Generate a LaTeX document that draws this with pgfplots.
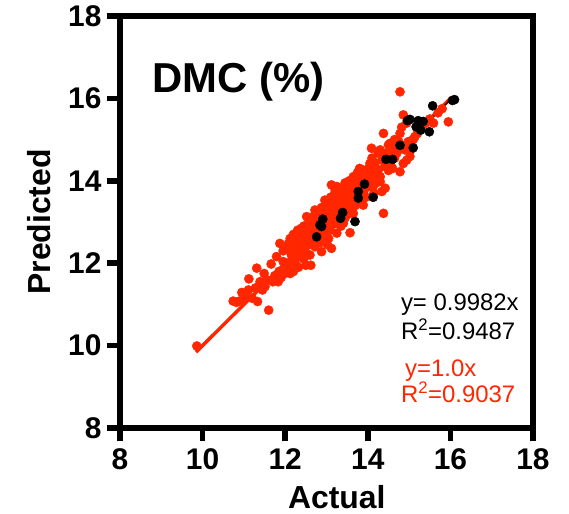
\documentclass[border=0pt]{standalone}
\usepackage{fontspec}
\setmainfont{Liberation Sans}
\usepackage{pgfplots}
\pgfplotsset{compat=1.18}
\definecolor{dmcred}{RGB}{255,38,0}
\begin{document}
\begin{tikzpicture}
\begin{axis}[
  scale only axis, width=413bp, height=412bp,
  xmin=8, xmax=18, ymin=8, ymax=18,
  xtick={8,10,12,14,16,18}, ytick={8,10,12,14,16,18},
  axis line style={line width=5.5bp, line cap=rect},
  tick style={line width=5.5bp, black},
  major tick length=13bp, tick align=outside,
  xtick pos=bottom, ytick pos=left,
  /pgf/number format/assume math mode=true,
  ticklabel style={font=\fontsize{30}{32}\selectfont\bfseries},
  xticklabel style={yshift=-4bp},
  yticklabel style={xshift=-2bp},
  xlabel={Actual}, ylabel={Predicted},
  label style={font=\fontsize{32}{36}\selectfont\bfseries},
  xlabel style={at={([yshift=-80bp]axis description cs:0.525,0)}, anchor=base},
  ylabel style={at={([xshift=-69bp]axis description cs:0,0.5)}, anchor=base},
  clip=false,
]
% red points (all samples)
\addplot[only marks, mark=*, dmcred, mark options={draw=dmcred, fill=dmcred, mark size=4.6bp}] coordinates {
(9.86,9.99)
(10.74,11.08)(10.82,11.05)(10.89,11.08)(10.95,11.29)(11.0,11.12)(11.05,11.2)(11.11,11.35)(11.12,11.62)
(11.2,11.15)(11.28,11.4)(11.31,11.88)(11.33,11.07)(11.39,11.55)(11.45,11.35)(11.49,11.75)(11.51,11.43)
(11.55,11.6)(11.60,10.86)(11.66,11.98)(11.7,11.55)(11.75,11.7)(11.83,11.55)(11.85,11.8)(11.9,11.65)
(11.95,12.04)(11.99,11.75)(12.05,11.85)(12.12,11.75)(12.2,11.8)(12.24,12.0)(12.08,12.0)
(11.79,12.16)(11.87,12.48)(11.95,12.3)
(12.04,12.40)(12.08,12.48)(12.12,12.32)(12.12,12.60)(12.15,12.2)(12.18,12.45)(12.2,12.56)(12.2,12.32)
(12.25,12.1)(12.28,12.64)(12.28,12.68)(12.28,12.32)(12.3,12.5)(12.32,11.9)(12.35,12.25)(12.36,12.48)
(12.38,12.75)(12.40,12.85)(12.42,12.4)(12.44,12.60)(12.45,12.1)(12.48,12.3)(12.5,12.55)(12.5,11.95)
(12.52,13.13)(12.55,12.7)(12.56,12.81)(12.58,12.45)(12.6,12.97)(12.6,12.2)(12.62,11.95)(12.65,12.6)
(12.68,13.05)(12.7,12.8)(12.72,13.29)(12.72,12.4)(12.75,12.95)(12.78,12.55)(12.8,13.21)(12.8,12.7)
(12.82,13.05)(12.85,12.85)(12.88,12.28)(12.88,13.35)(12.9,12.6)(12.92,13.1)(12.95,12.9)(12.96,13.53)
(12.98,13.2)(13.0,13.29)(13.0,12.64)(13.02,12.45)(13.05,13.4)(13.05,13.0)(13.08,12.8)(13.1,13.6)
(13.12,13.90)(13.12,12.36)(13.15,13.15)(13.16,13.45)(13.18,12.95)(13.2,13.7)(13.21,13.78)(13.22,13.3)
(13.25,12.73)(13.25,13.86)(13.25,13.45)(13.28,13.1)(13.3,13.55)(13.32,13.25)(13.33,13.61)(13.35,12.9)
(13.38,13.4)(13.4,13.7)(13.41,13.29)(13.41,12.97)(13.42,13.55)(13.45,13.1)(13.48,13.85)(13.49,13.53)
(13.5,13.3)(13.52,13.65)(13.55,13.2)(13.57,13.78)(13.57,12.74)(13.6,13.45)(13.62,13.95)(13.65,13.21)
(13.65,13.6)(13.68,13.75)(13.7,13.4)(13.73,13.94)(13.75,14.05)(13.78,13.55)(13.8,13.8)(13.81,14.10)
(13.85,13.95)(13.89,14.26)(13.89,13.41)(13.9,13.7)(13.93,14.18)(13.97,14.02)(14.0,13.85)(14.02,14.3)
(14.05,14.42)(14.09,14.79)(14.1,14.1)(14.13,14.18)(14.13,13.86)(14.18,14.35)(14.2,13.95)(14.25,14.67)
(14.25,14.25)(14.3,14.10)(14.3,13.98)(14.34,13.74)(14.34,14.5)(14.38,13.21)(14.38,15.15)(14.38,14.59)
(14.42,13.82)(14.42,14.35)(14.46,14.67)(14.50,14.87)(14.54,14.91)(14.55,14.4)(14.6,14.75)(14.62,14.71)
(14.65,14.55)(14.70,14.67)(14.75,14.95)(14.78,16.16)(14.78,15.15)(14.78,14.22)(14.78,14.79)(14.82,15.3)
(14.82,14.79)(14.86,15.60)(14.86,14.42)(14.9,14.75)(14.94,15.40)(14.94,14.50)(14.98,14.95)(15.02,14.59)
(15.02,14.71)(15.06,14.83)(15.1,15.0)(15.14,15.07)(15.2,15.15)(15.3,15.3)(15.4,15.4)(15.5,15.5)
(15.59,15.40)(15.7,15.65)(15.8,15.75)(15.95,15.43)
(12.9,13.0)(13.0,13.1)(13.1,13.2)(13.2,13.35)(13.3,13.35)(13.35,13.6)(13.45,13.45)(13.55,13.6)
(13.6,13.8)(13.7,13.65)(13.1,12.95)(13.25,13.15)(13.4,13.15)(13.5,13.75)(13.6,13.35)(12.65,12.75)
(12.4,12.65)(12.3,12.8)(12.55,12.95)(12.7,13.15)(12.2,12.7)(12.45,12.9)(12.35,12.55)(12.62,12.55)
(12.75,12.6)(12.85,12.5)(12.95,12.75)(13.05,12.6)(13.15,13.3)(13.35,13.8)(13.45,13.95)(13.55,14.0)
(13.65,14.1)(13.75,14.2)(13.8,14.3)(13.9,14.0)(14.0,14.15)(14.05,14.0)(14.15,14.45)(14.2,14.2)
(14.45,14.5)(14.5,14.25)(14.6,14.3)(14.65,15.0)(14.7,14.8)(14.15,13.7)(13.95,13.6)(13.85,13.85)
(14.1,14.55)(14.3,14.75)
};
% red regression line y = 1.0x
\addplot[dmcred, line width=3.5bp] coordinates {(9.84,9.84) (16.02,16.02)};
% black points (test set)
\addplot[only marks, mark=*, black, mark options={mark size=4.6bp}] coordinates {
(15.57,15.82)(14.96,15.46)(15.02,15.49)(15.22,15.46)(15.34,15.44)(15.17,15.31)(15.28,15.23)(15.49,15.19)
(14.78,14.86)(15.10,14.80)(14.44,14.52)(14.60,14.52)(13.92,13.92)(13.77,13.74)(13.77,13.58)(14.13,13.60)
(13.69,13.01)(13.39,13.23)(13.34,13.09)(12.91,13.07)(12.84,12.93)(12.88,12.89)(12.76,12.64)
(16.05,15.95)(16.1,15.97)
};
% black regression line y = 0.9982x
\addplot[black, line width=1.2bp] coordinates {(12.7,12.677) (16.1,16.071)};
% title and equations
\node[anchor=base west, font=\fontsize{42}{46}\selectfont\bfseries, inner sep=0pt] at (axis cs:8.775,16.155) {DMC (\%)};
\node[anchor=base west, font=\fontsize{24}{28}\selectfont, inner sep=0pt] at (axis cs:14.80,10.85) {y= 0.9982x};
\node[anchor=base west, font=\fontsize{24}{28}\selectfont, inner sep=0pt] at (axis cs:14.80,10.14) {R\textsuperscript{2}=0.9487};
\node[anchor=base west, font=\fontsize{24}{28}\selectfont, inner sep=0pt, text=dmcred] at (axis cs:14.90,9.245) {y=1.0x};
\node[anchor=base west, font=\fontsize{24}{28}\selectfont, inner sep=0pt, text=dmcred] at (axis cs:14.80,8.61) {R\textsuperscript{2}=0.9037};
\end{axis}
\pgfresetboundingbox
\path ([shift={(-120bp,-86bp)}]current axis.south west) rectangle ([shift={(36bp,16bp)}]current axis.north east);
\end{tikzpicture}
\end{document}
